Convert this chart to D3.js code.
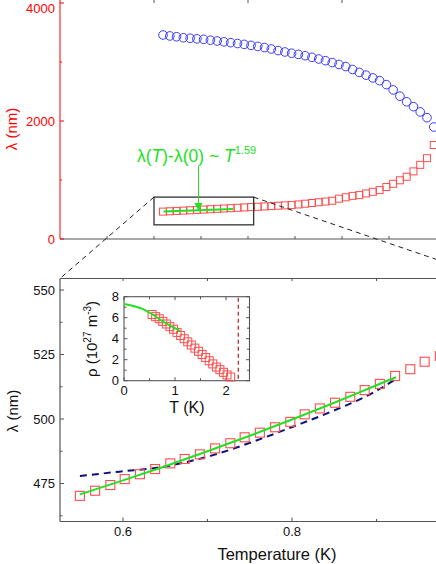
<!DOCTYPE html>
<html>
<head>
<meta charset="utf-8">
<script src="https://cdn.jsdelivr.net/npm/d3@7"></script>
<style>
  html, body { margin: 0; padding: 0; background: #fff; }
  svg { display: block; font-family: Arial, "Liberation Sans", sans-serif; }
</style>
</head>
<body>
<svg id="chart" width="436" height="564"></svg>
<script>
// ---------- DATA ----------
// Top panel: temperature grid (K)
const topT = [0.548,0.584,0.620,0.656,0.692,0.728,0.764,0.800,0.836,0.872,0.908,0.944,0.980,1.016,1.052,1.088,1.124,1.160,1.196,1.232,1.268,1.304,1.340,1.376,1.412,1.448,1.484,1.520,1.556,1.592,1.628,1.664,1.700,1.736,1.772,1.808,1.844,1.880,1.916,1.952,1.988];
// Top panel: penetration depth lambda (nm), red squares
const topLambda = [464,470,476,481,487,493,499,505,511,517,523,529,535,541,546,552,558,564,570,575,586,598,610,623,635,648,683,707,731,744,772,800,829,882,935,995,1055,1146,1257,1370,1593];
// Top panel: blue circles (plotted on same vertical scale)
const topBlue = [3458,3442,3428,3411,3402,3393,3384,3370,3356,3342,3328,3313,3299,3282,3264,3245,3220,3194,3170,3149,3129,3106,3079,3051,3022,2990,2958,2923,2873,2824,2777,2730,2684,2617,2527,2421,2325,2243,2154,2056,1898];
const topYTicks = [0, 2000, 4000];
const topYMinor = [1000, 3000];
const topXTicks = [0.25,0.5,0.75,1.0,1.25,1.5,1.75];
const topXTopTicks = [0.5, 1.0, 1.5];
// Zoom window in top panel (T, lambda)
const zoomT = [0.5, 1.03];
const zoomL = [240, 710];
// Top-panel fit line (T, lambda)
const topFitT = [0.55, 0.92];
const topFitL = [466, 510];

// Bottom panel: lambda vs T
const botT = [0.549,0.567,0.585,0.602,0.620,0.638,0.656,0.673,0.691,0.709,0.727,0.744,0.762,0.780,0.798,0.815,0.833,0.851,0.869,0.886,0.904,0.922,0.940,0.957,0.975];
const botLambda = [470.2,472.2,474.4,476.7,478.6,480.6,482.8,484.5,486.3,488.6,490.6,492.9,494.7,496.8,498.9,501.8,504.1,506.3,508.6,511.2,513.6,516.7,519.3,522.2,524.4];
// Power-law fit (green)
const fitT = [0.549,0.6,0.65,0.7,0.75,0.8,0.85,0.9,0.923];
const fitLambda = [470.8,476.2,481.7,487.5,493.5,499.8,506.3,513.1,516.2];
// Dashed model (navy)
const dashT = [0.549,0.596,0.644,0.7065,0.754,0.801,0.849,0.896,0.923];
const dashLambda = [477.9,479.6,481.3,486.0,491.2,497.0,503.2,510.2,515.5];
const botYTicks = [475, 500, 525, 550];
const botYMinor = [462.5, 487.5, 512.5, 537.5];
const botXTicks = [0.6, 0.8];
const botXMinor = [0.7, 0.9];

// Inset: superfluid density rho vs T
const inT = [0.55,0.62,0.69,0.76,0.83,0.90,0.97,1.04,1.11,1.18,1.25,1.32,1.39,1.46,1.53,1.60,1.67,1.74,1.81,1.88,1.95,2.02,2.09];
const inRho = [6.3,6.1,5.9,5.65,5.4,5.15,4.9,4.6,4.3,4.0,3.7,3.4,3.1,2.8,2.5,2.2,1.9,1.6,1.3,1.05,0.8,0.55,0.35];
const inFitT = [0,0.18,0.38,0.575,0.77,0.97,1.1];
const inFitRho = [7.3,7.11,6.8,6.26,5.62,5.08,4.73];
const inTc = 2.24;
const inXTicks = [0,1,2];
const inXMinor = [0.5,1.5];
const inYTicks = [0,2,4,6,8];
const inYMinor = [1,3,5,7];

// ---------- DRAW ----------
const svg = d3.select("#chart");
const axisGray = "#555";
const red = "#ff0000";
const sqRed = "#ff4d4d";
const green = "#22e022";

// ===== TOP PANEL =====
const xTop = d3.scaleLinear().domain([0, 2]).range([60, 436]);
const yTop = d3.scaleLinear().domain([0, 4000]).range([239, 3]);

// bottom axis line
svg.append("line").attr("x1", 60).attr("x2", 436).attr("y1", yTop(0)).attr("y2", yTop(0))
  .attr("stroke", axisGray).attr("stroke-width", 1.2);
svg.selectAll(".tbt").data(topXTicks).join("line")
  .attr("x1", d => xTop(d)).attr("x2", d => xTop(d))
  .attr("y1", yTop(0)).attr("y2", yTop(0) - 3)
  .attr("stroke", axisGray).attr("stroke-width", 1);
svg.selectAll(".ttt").data(topXTopTicks).join("line")
  .attr("x1", d => xTop(d)).attr("x2", d => xTop(d))
  .attr("y1", 0).attr("y2", 3)
  .attr("stroke", axisGray).attr("stroke-width", 1);

// red y-axis
svg.append("line").attr("x1", 60).attr("x2", 60).attr("y1", 0).attr("y2", yTop(0))
  .attr("stroke", red).attr("stroke-width", 1);
svg.selectAll(".tyt").data(topYTicks).join("line")
  .attr("x1", 60).attr("x2", 64).attr("y1", d => yTop(d)).attr("y2", d => yTop(d))
  .attr("stroke", red).attr("stroke-width", 1);
svg.selectAll(".tym").data(topYMinor).join("line")
  .attr("x1", 60).attr("x2", 62).attr("y1", d => yTop(d)).attr("y2", d => yTop(d))
  .attr("stroke", red).attr("stroke-width", 1);
svg.selectAll(".tyl").data(topYTicks).join("text")
  .attr("x", 55).attr("y", d => Math.max(yTop(d), 8.5)).attr("dy", "0.36em")
  .attr("text-anchor", "end").attr("font-size", 13).attr("fill", red)
  .text(d => d);
svg.append("text")
  .attr("transform", "translate(17,129) rotate(-90)")
  .attr("text-anchor", "middle").attr("font-size", 15).attr("fill", red)
  .text("λ (nm)");

// blue circles
svg.append("g").selectAll("circle").data(topT).join("circle")
  .attr("cx", d => xTop(d)).attr("cy", (d, i) => yTop(topBlue[i])).attr("r", 4.3)
  .attr("fill", "none").attr("stroke", "#3a3aff").attr("stroke-width", 1);

// red squares
const sTop = 7;
svg.append("g").selectAll("rect").data(topT).join("rect")
  .attr("x", d => xTop(d) - sTop / 2).attr("y", (d, i) => yTop(topLambda[i]) - sTop / 2)
  .attr("width", sTop).attr("height", sTop)
  .attr("fill", "none").attr("stroke", sqRed).attr("stroke-width", 1);

// fit line in top panel
svg.append("line")
  .attr("x1", xTop(topFitT[0])).attr("y1", yTop(topFitL[0]))
  .attr("x2", xTop(topFitT[1])).attr("y2", yTop(topFitL[1]))
  .attr("stroke", green).attr("stroke-width", 2);

// zoom box
const bx0 = xTop(zoomT[0]), bx1 = xTop(zoomT[1]);
const by0 = yTop(zoomL[1]), by1 = yTop(zoomL[0]);
svg.append("rect").attr("x", bx0).attr("y", by0).attr("width", bx1 - bx0).attr("height", by1 - by0)
  .attr("fill", "none").attr("stroke", "#333").attr("stroke-width", 1.3);

// annotation
const ann = svg.append("text").attr("x", 137).attr("y", 162)
  .attr("font-size", 17.5).attr("fill", green);
ann.append("tspan").text("λ(");
ann.append("tspan").attr("font-style", "italic").text("T");
ann.append("tspan").text(")-λ(0) ~ ");
ann.append("tspan").attr("font-style", "italic").text("T");
ann.append("tspan").attr("font-size", 11).attr("dy", -8).text("1.59");
svg.append("line").attr("x1", 198.5).attr("x2", 198.5).attr("y1", 166).attr("y2", 204)
  .attr("stroke", green).attr("stroke-width", 1);
svg.append("path").attr("d", "M194.5,203 L202.5,203 L198.5,211 Z").attr("fill", green);

// ===== BOTTOM PANEL =====
const xBot = d3.scaleLinear().domain([0.6, 0.8]).range([123, 292]);
const yBot = d3.scaleLinear().domain([475, 550]).range([483.5, 290]);
const botTop = 278.5, botBottom = 521.5;
const botRightX = xBot(1.037);

// dashed connector lines
svg.append("line").attr("x1", bx0).attr("y1", by0).attr("x2", 60).attr("y2", botTop)
  .attr("stroke", "#222").attr("stroke-width", 1).attr("stroke-dasharray", "5,4");
svg.append("line").attr("x1", bx1).attr("y1", by0).attr("x2", botRightX).attr("y2", botTop)
  .attr("stroke", "#222").attr("stroke-width", 1).attr("stroke-dasharray", "5,4");

// frame
svg.append("line").attr("x1", 60).attr("x2", 436).attr("y1", botTop).attr("y2", botTop)
  .attr("stroke", axisGray).attr("stroke-width", 1.2);
svg.append("line").attr("x1", 60).attr("x2", 436).attr("y1", botBottom).attr("y2", botBottom)
  .attr("stroke", axisGray).attr("stroke-width", 1.2);
svg.append("line").attr("x1", 60).attr("x2", 60).attr("y1", botTop).attr("y2", botBottom)
  .attr("stroke", axisGray).attr("stroke-width", 1.2);

// y ticks
svg.selectAll(".byt").data(botYTicks).join("line")
  .attr("x1", 60).attr("x2", 64).attr("y1", d => yBot(d)).attr("y2", d => yBot(d))
  .attr("stroke", axisGray).attr("stroke-width", 1);
svg.selectAll(".bym").data(botYMinor).join("line")
  .attr("x1", 60).attr("x2", 62.5).attr("y1", d => yBot(d)).attr("y2", d => yBot(d))
  .attr("stroke", axisGray).attr("stroke-width", 1);
svg.selectAll(".byl").data(botYTicks).join("text")
  .attr("x", 55).attr("y", d => yBot(d)).attr("dy", "0.36em")
  .attr("text-anchor", "end").attr("font-size", 13).attr("fill", "#111")
  .text(d => d);
// x ticks
svg.selectAll(".bxt").data(botXTicks).join("line")
  .attr("x1", d => xBot(d)).attr("x2", d => xBot(d)).attr("y1", botBottom).attr("y2", botBottom - 4)
  .attr("stroke", axisGray).attr("stroke-width", 1);
svg.selectAll(".bxm").data(botXMinor).join("line")
  .attr("x1", d => xBot(d)).attr("x2", d => xBot(d)).attr("y1", botBottom).attr("y2", botBottom - 2.5)
  .attr("stroke", axisGray).attr("stroke-width", 1);
svg.selectAll(".bxtt").data(botXTicks.concat(botXMinor)).join("line")
  .attr("x1", d => xBot(d)).attr("x2", d => xBot(d)).attr("y1", botTop).attr("y2", botTop + 2.5)
  .attr("stroke", axisGray).attr("stroke-width", 1);
svg.selectAll(".bxl").data(botXTicks).join("text")
  .attr("x", d => xBot(d)).attr("y", 536)
  .attr("text-anchor", "middle").attr("font-size", 13).attr("fill", "#111")
  .text(d => d.toFixed(1));
svg.append("text").attr("x", 277).attr("y", 560).attr("text-anchor", "middle")
  .attr("font-size", 16.5).attr("fill", "#111").text("Temperature (K)");
svg.append("text")
  .attr("transform", "translate(18,411) rotate(-90)")
  .attr("text-anchor", "middle").attr("font-size", 15).attr("fill", "#111")
  .text("λ (nm)");

// dashed navy model
svg.append("path").datum(dashT)
  .attr("d", d3.line().x(d => xBot(d)).y((d, i) => yBot(dashLambda[i])).curve(d3.curveMonotoneX))
  .attr("fill", "none").attr("stroke", "#10107a").attr("stroke-width", 2)
  .attr("stroke-dasharray", "7,5");

// squares
const sBot = 9;
svg.append("g").selectAll("rect").data(botT).join("rect")
  .attr("x", d => xBot(d) - sBot / 2).attr("y", (d, i) => yBot(botLambda[i]) - sBot / 2)
  .attr("width", sBot).attr("height", sBot)
  .attr("fill", "none").attr("stroke", sqRed).attr("stroke-width", 1.1);

// green fit
svg.append("path").datum(fitT)
  .attr("d", d3.line().x(d => xBot(d)).y((d, i) => yBot(fitLambda[i])).curve(d3.curveMonotoneX))
  .attr("fill", "none").attr("stroke", green).attr("stroke-width", 2);

// ===== INSET =====
const xIn = d3.scaleLinear().domain([0, 2.46]).range([124, 249.5]);
const yIn = d3.scaleLinear().domain([0, 8]).range([380.7, 296.7]);
const ix0 = xIn(0), ix1 = xIn(2.46), iy0 = yIn(8), iy1 = yIn(0);
svg.append("rect").attr("x", ix0).attr("y", iy0).attr("width", ix1 - ix0).attr("height", iy1 - iy0)
  .attr("fill", "#fff").attr("stroke", axisGray).attr("stroke-width", 1.1);

const inXAll = inXTicks.concat(inXMinor);
svg.selectAll(".ixb").data(inXAll).join("line")
  .attr("x1", d => xIn(d)).attr("x2", d => xIn(d)).attr("y1", iy1).attr("y2", d => iy1 - (inXTicks.includes(d) ? 3.5 : 2.5))
  .attr("stroke", axisGray).attr("stroke-width", 1);
svg.selectAll(".ixt").data(inXAll).join("line")
  .attr("x1", d => xIn(d)).attr("x2", d => xIn(d)).attr("y1", iy0).attr("y2", d => iy0 + (inXTicks.includes(d) ? 3.5 : 2.5))
  .attr("stroke", axisGray).attr("stroke-width", 1);
const inYAll = inYTicks.concat(inYMinor);
svg.selectAll(".iyl").data(inYAll).join("line")
  .attr("x1", ix0).attr("x2", d => ix0 + (inYTicks.includes(d) ? 3.5 : 2.5)).attr("y1", d => yIn(d)).attr("y2", d => yIn(d))
  .attr("stroke", axisGray).attr("stroke-width", 1);
svg.selectAll(".iyr").data(inYAll).join("line")
  .attr("x1", ix1).attr("x2", d => ix1 - (inYTicks.includes(d) ? 3.5 : 2.5)).attr("y1", d => yIn(d)).attr("y2", d => yIn(d))
  .attr("stroke", axisGray).attr("stroke-width", 1);
svg.selectAll(".iylab").data(inYTicks).join("text")
  .attr("x", 119).attr("y", d => yIn(d)).attr("dy", "0.36em")
  .attr("text-anchor", "end").attr("font-size", 13).attr("fill", "#111").text(d => d);
svg.selectAll(".ixlab").data(inXTicks).join("text")
  .attr("x", d => xIn(d)).attr("y", 395)
  .attr("text-anchor", "middle").attr("font-size", 13).attr("fill", "#111").text(d => d);
svg.append("text").attr("x", 187).attr("y", 413).attr("text-anchor", "middle")
  .attr("font-size", 16).attr("fill", "#111").text("T (K)");
const rl = svg.append("text")
  .attr("transform", "translate(97,339) rotate(-90)")
  .attr("text-anchor", "middle").attr("font-size", 15).attr("fill", "#111");
rl.append("tspan").text("ρ (10");
rl.append("tspan").attr("font-size", 10).attr("dy", -6).text("27");
rl.append("tspan").attr("dy", 6).text(" m");
rl.append("tspan").attr("font-size", 10).attr("dy", -6).text("-3");
rl.append("tspan").attr("dy", 6).text(")");

// Tc dashed line
svg.append("line").attr("x1", xIn(inTc)).attr("x2", xIn(inTc)).attr("y1", iy0 + 1).attr("y2", iy1)
  .attr("stroke", "#c01818").attr("stroke-width", 1.2).attr("stroke-dasharray", "4,3");

// inset squares
const sIn = 8;
svg.append("g").selectAll("rect").data(inT).join("rect")
  .attr("x", d => xIn(d) - sIn / 2).attr("y", (d, i) => yIn(inRho[i]) - sIn / 2)
  .attr("width", sIn).attr("height", sIn)
  .attr("fill", "none").attr("stroke", sqRed).attr("stroke-width", 1);
// inset fit
svg.append("path").datum(inFitT)
  .attr("d", d3.line().x(d => xIn(d)).y((d, i) => yIn(inFitRho[i])).curve(d3.curveMonotoneX))
  .attr("fill", "none").attr("stroke", green).attr("stroke-width", 2);
</script>
</body>
</html>
